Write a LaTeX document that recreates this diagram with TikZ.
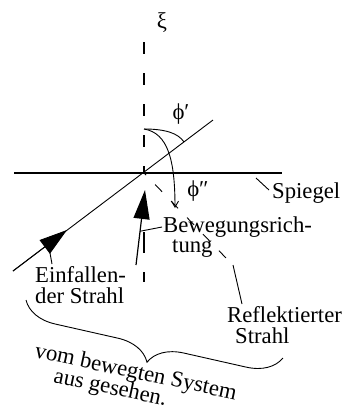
\documentclass[tikz,border=0pt]{standalone}
\usepackage{fontspec}
\setmainfont{Liberation Serif}
\usetikzlibrary{arrows.meta,calc,decorations.pathreplacing}
\begin{document}
\begin{tikzpicture}[x=1pt,y=-1pt,
  lbl/.style={font=\fontsize{22.7}{21}\selectfont, inner sep=0pt, anchor=base west},
  sym/.style={font=\fontsize{22.7}{21}\selectfont, inner sep=0pt, anchor=center},
  ray/.style={line width=0.9pt},
  leader/.style={line width=0.9pt},
  axis/.style={line width=2pt},
  mirror/.style={line width=2pt}]
\useasboundingbox (0,0) rectangle (349,413);
% origin, mirror, axis
\coordinate (O) at (144,173);
\coordinate (mL) at (14,173);
\coordinate (mR) at (282,173);
\draw[mirror] (mL) -- (mR);
\coordinate (vTop) at (144,42);
\coordinate (vLow) at (144,232);
\coordinate (vBot) at (144,282);
\draw[axis, dash pattern=on 12pt off 19pt] (vTop) -- (O);
\draw[axis, dash pattern=on 21pt off 19pt] (vLow) -- (vBot);
% incident ray
\coordinate (inA) at (13,271);
\coordinate (inB) at (213,120);
\coordinate (inTip) at (67,230);
\draw[ray] (inA) -- (inB);
\draw[ray, -{Triangle[length=28pt,width=17pt]}] (inA) -- (inTip);
% reflected ray
\coordinate (rEnd) at (226,258);
\draw[ray, dash pattern=on 10pt off 13pt, dash phase=7pt] (O) -- (rEnd);
% direction of motion
\coordinate (mvA) at (136,265);
\coordinate (mvTip) at (145,190);
\draw[line width=1.2pt, -{Triangle[length=29pt,width=16pt]}] (mvA) -- (mvTip);
% angle arcs
\coordinate (arcS) at (144,129);
\coordinate (arc1E) at (184,142);
\coordinate (arc2E) at (175,208);
\draw[ray] (arcS) .. controls (165,129) and (178,133) .. (arc1E);
\draw[ray, -{Straight Barb[length=6pt,width=7pt]}] (arcS) .. controls (168,133) and (175,160) .. (arc2E);
% labels
\node[sym] (xi) at (162,23) {ξ};
\node[sym] (phi1) at (181,114) {ϕ′};
\node[sym] (phi2) at (198,191) {ϕ″};
\node[lbl] (spg) at (272,198) {Spiegel};
\node[lbl] (bew1) at (163,232) {Bewegungsrich-};
\node[lbl] (bew2) at (172,252) {tung};
\node[lbl] (ein1) at (35,282) {Einfallen-};
\node[lbl] (ein2) at (35,303) {der Strahl};
\node[lbl] (ref1) at (227,322) {Reflektierter};
\node[lbl] (ref2) at (235,343) {Strahl};
\node[lbl, anchor=base, rotate=-12] (sys1) at (134.5,378.5) {vom bewegten System};
\node[lbl, anchor=base, rotate=-12] (sys2) at (109,394) {aus gesehen.};
% leaders
\coordinate (spgL) at (256,178);
\draw[leader] (spgL) -- ($(spg.base west)+(-3,-8)$);
\coordinate (mvShaft) at ($(mvA)!0.45!(mvTip)$);
\draw[leader] ($(bew1.base west)+(-1,-5)$) -- (mvShaft);
\coordinate (inBase) at (50,253);
\draw[leader] (inBase) -- ($(ein1.base west)+(17,-18)$);
\coordinate (rLead) at (233,265);
\draw[leader] (rLead) -- ($(ref1.base west)+(15,-18)$);
% brace
\coordinate (brL) at (26,300);
\coordinate (brR) at (283,358);
\draw[line width=0.9pt, decorate, decoration={brace, mirror, amplitude=34pt}] (brL) -- (brR);
\end{tikzpicture}
\end{document}
